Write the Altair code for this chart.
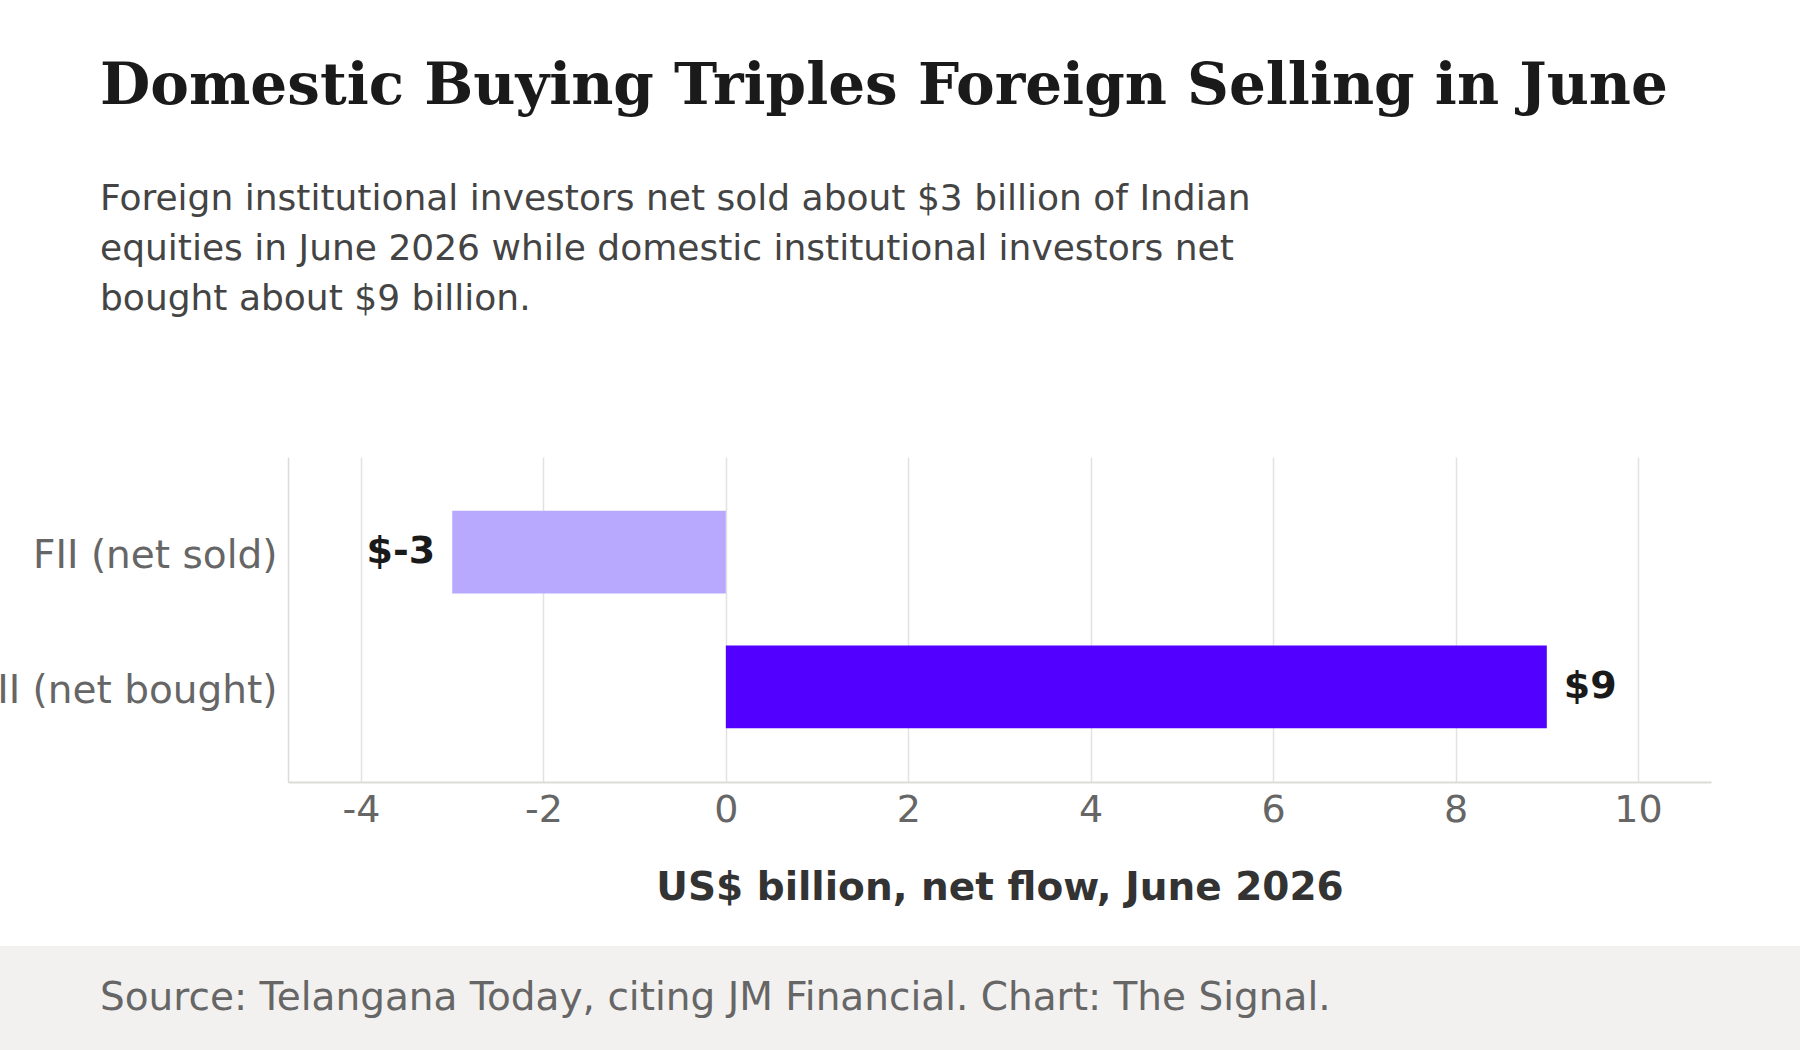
import altair as alt
import pandas as pd

categories = ["FII (net sold)", "DII (net bought)"]
values = [-3, 9]
value_labels = ["$-3", "$9"]
bar_colors = ["#b8a9ff", "#5200ff"]
x_ticks = [-4, -2, 0, 2, 4, 6, 8, 10]
x_domain = [-4.8, 10.8]

title_text = "Domestic Buying Triples Foreign Selling in June"
subtitle_lines = [
    "Foreign institutional investors net sold about $3 billion of Indian",
    "equities in June 2026 while domestic institutional investors net",
    "bought about $9 billion.",
]
source_text = "Source: Telangana Today, citing JM Financial. Chart: The Signal."
x_title = "US$ billion, net flow, June 2026"

df = pd.DataFrame({
    "category": categories,
    "value": values,
    "label": value_labels,
    "color": bar_colors,
})

W, H = 1423, 325
PL, PT = 288, 457
PR = 1800 - PL - W
PB = 1050 - PT - H

y_enc = alt.Y(
    "category:N",
    sort=categories,
    scale=alt.Scale(paddingInner=0.385, paddingOuter=0.4),
    axis=alt.Axis(
        title=None,
        labelFont="DejaVu Sans",
        labelFontSize=39,
        labelColor="#666666",
        labelPadding=11,
        labelLimit=0,
        labelBaseline="alphabetic",
        labelOffset=16,
        ticks=False,
        grid=False,
        domainColor="#dcdbd7",
        domainWidth=1.5,
    ),
)
x_enc = alt.X(
    "value:Q",
    scale=alt.Scale(domain=x_domain, nice=False, zero=False),
    axis=alt.Axis(
        values=x_ticks,
        labelExpr="toString(datum.value)",
        title=x_title,
        titleFont="DejaVu Sans",
        titleFontSize=39,
        titleFontWeight="bold",
        titleColor="#333333",
        titleBaseline="alphabetic",
        titleY=117,
        labelFont="DejaVu Sans",
        labelFontSize=38,
        labelColor="#666666",
        labelBaseline="alphabetic",
        labelPadding=39,
        ticks=False,
        grid=True,
        gridColor="#e3e2df",
        gridWidth=1.5,
        domainColor="#dcdbd7",
        domainWidth=2,
    ),
)

bars = alt.Chart(df).mark_bar().encode(
    x=x_enc,
    x2=alt.datum(0),
    y=y_enc,
    color=alt.Color("color:N", scale=None),
)

text_neg = alt.Chart(df).transform_filter("datum.value < 0").mark_text(
    align="right", baseline="alphabetic", dx=-17, dy=11, font="DejaVu Sans",
    fontWeight="bold", fontSize=38, color="#1a1a1a",
).encode(x="value:Q", y=alt.Y("category:N", sort=categories), text="label:N")

text_pos = alt.Chart(df).transform_filter("datum.value >= 0").mark_text(
    align="left", baseline="alphabetic", dx=17, dy=11, font="DejaVu Sans",
    fontWeight="bold", fontSize=38, color="#1a1a1a",
).encode(x="value:Q", y=alt.Y("category:N", sort=categories), text="label:N")

one = pd.DataFrame({"k": [0]})

band = alt.Chart(one).mark_rect(color="#f2f1ef").encode(
    x=alt.value(-PL), x2=alt.value(W + PR),
    y=alt.value(946 - PT), y2=alt.value(1050 - PT),
)

title_mark = alt.Chart(one).mark_text(
    align="left", baseline="alphabetic", font="DejaVu Serif",
    fontWeight="bold", fontSize=58, color="#1a1a1a",
).encode(x=alt.value(100 - PL), y=alt.value(104 - PT), text=alt.value(title_text))

subtitle_mark = alt.Chart(one).mark_text(
    align="left", baseline="alphabetic", font="DejaVu Sans",
    fontSize=36, lineHeight=50, color="#444444",
).encode(x=alt.value(100 - PL), y=alt.value(210 - PT), text=alt.value(subtitle_lines))

source_mark = alt.Chart(one).mark_text(
    align="left", baseline="alphabetic", font="DejaVu Sans",
    fontSize=39, color="#666666",
).encode(x=alt.value(100 - PL), y=alt.value(1010 - PT), text=alt.value(source_text))

chart = alt.layer(
    band, bars, text_neg, text_pos, title_mark, subtitle_mark, source_mark
).properties(
    width=W,
    height=H,
    autosize=alt.AutoSizeParams(type="none"),
    padding={"left": PL, "top": PT, "right": PR, "bottom": PB},
    background="#ffffff",
).configure_view(stroke=None)

chart.save("out.html", embed_options={"renderer": "svg", "actions": False})
